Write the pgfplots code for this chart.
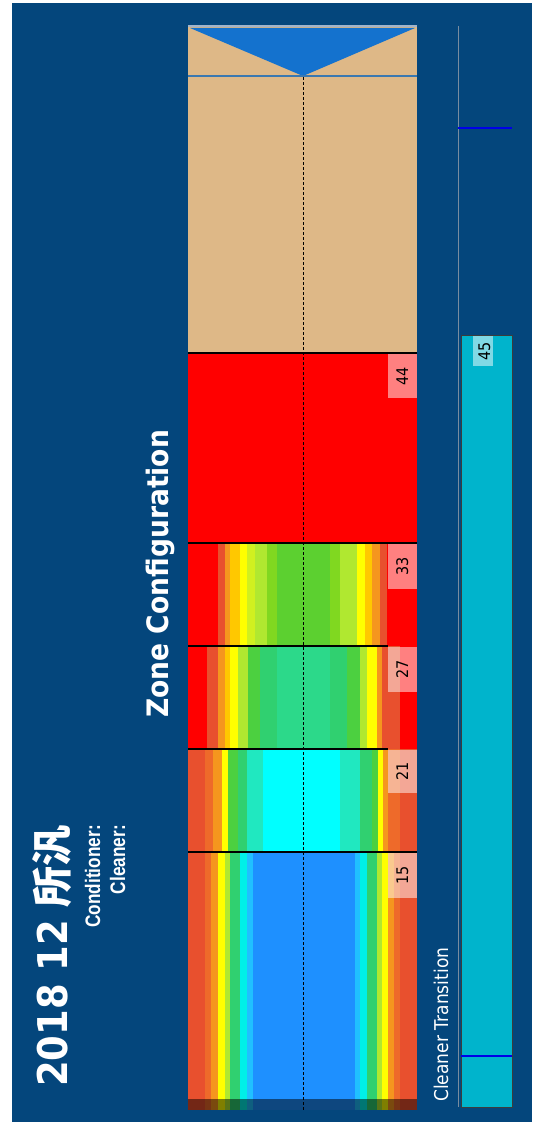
\documentclass[border=0pt]{standalone}
\usepackage{pgfplots}
\pgfplotsset{compat=1.18}
\usepackage{fontspec}
\setmainfont{DejaVu Sans}[FakeStretch=0.9]
\newfontfamily\narrowfont{Liberation Sans}[FakeStretch=0.82]
\newfontfamily\cjkbold{Noto Sans CJK SC Bold}

\definecolor{bgblue}{RGB}{4,70,124}
\definecolor{tanfill}{RGB}{222,184,135}
\definecolor{triblue}{RGB}{20,114,206}
\definecolor{steel}{RGB}{58,120,176}
\definecolor{topline}{RGB}{160,180,204}
\definecolor{framegray}{RGB}{120,140,160}
\definecolor{bardark}{RGB}{60,60,60}
\definecolor{barcyan}{RGB}{0,180,204}
\definecolor{tickblue}{RGB}{0,0,230}
% heat colours
\definecolor{hred}{RGB}{255,0,0}
\definecolor{hro}{RGB}{232,80,46}
\definecolor{hor}{RGB}{238,106,42}
\definecolor{horange}{RGB}{245,150,30}
\definecolor{hyo}{RGB}{255,200,0}
\definecolor{hyellow}{RGB}{255,255,0}
\definecolor{hyg}{RGB}{176,232,48}
\definecolor{hyg2}{RGB}{208,240,32}
\definecolor{hlg}{RGB}{128,216,32}
\definecolor{hgreen}{RGB}{76,208,64}
\definecolor{hgreen2}{RGB}{48,208,112}
\definecolor{hgreen3}{RGB}{92,208,48}
\definecolor{hteal}{RGB}{44,217,138}
\definecolor{hturq}{RGB}{32,232,192}
\definecolor{hcyan}{RGB}{0,255,255}
\definecolor{hcyan2}{RGB}{0,240,232}
\definecolor{hlblue}{RGB}{32,192,255}
\definecolor{hblue}{RGB}{30,144,255}

% one coloured band: x0 x1 y0 y1 colour
\newcommand{\band}[5]{\addplot[draw=none, fill=#5] coordinates {(#1,#3) (#2,#3) (#2,#4) (#1,#4)};}

\begin{document}
\begin{tikzpicture}
\begin{axis}[
  scale only axis, width=542pt, height=1124pt,
  xmin=0, xmax=542, ymin=0, ymax=1124,
  y dir=reverse, hide axis, clip=false,
]
% page and background
\band{0}{542}{0}{1124}{white}
\band{12}{532}{3}{1122}{bgblue}

% upper (empty) part of the column
\band{188}{417}{26}{353}{tanfill}
\addplot[draw=none, fill=triblue] coordinates {(190,28) (415,28) (303,76)};
\addplot[topline, line width=1.5pt] coordinates {(188,26) (417,26)};
\addplot[steel, line width=2pt] coordinates {(188,76) (417,76)};

% zone 44
\band{188}{417}{353}{543}{hred}

% zone 33
\band{188}{218}{543}{646}{hred}
\band{218}{225}{543}{646}{hro}
\band{225}{230}{543}{646}{horange}
\band{230}{240}{543}{646}{hyo}
\band{240}{247}{543}{646}{hyellow}
\band{247}{255}{543}{646}{hyg2}
\band{255}{267}{543}{646}{hyg}
\band{267}{277}{543}{646}{hlg}
\band{277}{330}{543}{646}{hgreen3}
\band{330}{340}{543}{646}{hlg}
\band{340}{357}{543}{646}{hyg}
\band{357}{365}{543}{646}{hyellow}
\band{365}{372}{543}{646}{hyo}
\band{372}{380}{543}{646}{horange}
\band{380}{387}{543}{646}{hro}
\band{387}{417}{543}{646}{hred}

% zone 27
\band{188}{207}{646}{749}{hred}
\band{207}{218}{646}{749}{hro}
\band{218}{225}{646}{749}{horange}
\band{225}{230}{646}{749}{hyo}
\band{230}{238}{646}{749}{hyellow}
\band{238}{248}{646}{749}{hyg}
\band{248}{260}{646}{749}{hgreen}
\band{260}{277}{646}{749}{hgreen2}
\band{277}{330}{646}{749}{hteal}
\band{330}{347}{646}{749}{hgreen2}
\band{347}{360}{646}{749}{hgreen}
\band{360}{367}{646}{749}{hyg}
\band{367}{377}{646}{749}{hyellow}
\band{377}{382}{646}{749}{horange}
\band{382}{400}{646}{749}{hro}
\band{400}{417}{646}{749}{hred}

% zone 21
\band{188}{205}{749}{852}{hro}
\band{205}{213}{749}{852}{hor}
\band{213}{222}{749}{852}{horange}
\band{222}{228}{749}{852}{hyellow}
\band{228}{238}{749}{852}{hgreen}
\band{238}{247}{749}{852}{hgreen2}
\band{247}{263}{749}{852}{hturq}
\band{263}{340}{749}{852}{hcyan}
\band{340}{360}{749}{852}{hturq}
\band{360}{372}{749}{852}{hgreen2}
\band{372}{378}{749}{852}{hgreen}
\band{378}{383}{749}{852}{hyellow}
\band{383}{388}{749}{852}{horange}
\band{388}{400}{749}{852}{hor}
\band{400}{417}{749}{852}{hro}

% zone 15
\band{188}{205}{852}{1110}{hro}
\band{205}{211}{852}{1110}{hor}
\band{211}{218}{852}{1110}{horange}
\band{218}{225}{852}{1110}{hyellow}
\band{225}{230}{852}{1110}{hyg}
\band{230}{240}{852}{1110}{hgreen2}
\band{240}{247}{852}{1110}{hcyan2}
\band{247}{253}{852}{1110}{hlblue}
\band{253}{355}{852}{1110}{hblue}
\band{355}{360}{852}{1110}{hlblue}
\band{360}{367}{852}{1110}{hcyan2}
\band{367}{377}{852}{1110}{hgreen2}
\band{377}{382}{852}{1110}{hyg}
\band{382}{388}{852}{1110}{hyellow}
\band{388}{394}{852}{1110}{horange}
\band{394}{400}{852}{1110}{hor}
\band{400}{417}{852}{1110}{hro}
% darkened foot of the column
\addplot[draw=none, fill=black, fill opacity=0.5] coordinates {(188,1099) (417,1099) (417,1110) (188,1110)};

% zone borders
\addplot[black, line width=2pt] coordinates {(188,353) (417,353)};
\addplot[black, line width=2pt] coordinates {(188,543) (417,543)};
\addplot[black, line width=2pt] coordinates {(188,646) (388,646)};
\addplot[black, line width=2pt] coordinates {(188,749) (388,749)};
\addplot[black, line width=2pt] coordinates {(188,852) (417,852)};
% centre line
\addplot[black, line width=1pt, dash pattern=on 3pt off 2pt] coordinates {(303,77) (303,1110)};

% zone labels
\addplot[draw=none, fill=white, fill opacity=0.5] coordinates {(388,354) (417,354) (417,398) (388,398)};
\addplot[draw=none, fill=white, fill opacity=0.5] coordinates {(388,544) (417,544) (417,589) (388,589)};
\addplot[draw=none, fill=white, fill opacity=0.5] coordinates {(388,647) (417,647) (417,692) (388,692)};
\addplot[draw=none, fill=white, fill opacity=0.5] coordinates {(388,750) (417,750) (417,793) (388,793)};
\addplot[draw=none, fill=white, fill opacity=0.5] coordinates {(388,853) (417,853) (417,898) (388,898)};
\begin{scope}[every node/.style={rotate=90, anchor=base, inner sep=0pt, font=\fontsize{16}{16}\selectfont}]
\node at (axis cs:408,376) {44};
\node at (axis cs:408,566) {33};
\node at (axis cs:408,669) {27};
\node at (axis cs:408,771) {21};
\node at (axis cs:408,875) {15};
\end{scope}

% cleaner transition bar
\addplot[framegray, line width=1pt] coordinates {(458,26) (458,1107)};
\addplot[draw=bardark, line width=1pt, fill=barcyan] coordinates {(461,335) (512,335) (512,1107) (461,1107)} -- cycle;
\addplot[tickblue, line width=2pt] coordinates {(458,128) (512,128)};
\addplot[tickblue, line width=2pt] coordinates {(461,1056) (512,1056)};
\addplot[draw=none, fill=white, fill opacity=0.5] coordinates {(473,336) (493,336) (493,366) (473,366)};
\node[rotate=90, anchor=base, inner sep=0pt, font=\fontsize{16}{16}\selectfont] at (axis cs:490,351) {45};

% texts
\node[rotate=90, anchor=base east, inner sep=0pt, text=white, font=\fontsize{41}{41}\selectfont\bfseries]
  at (axis cs:67,825) {2018 12 {\cjkbold 所汎}};
\node[rotate=90, anchor=base east, inner sep=0pt, text=white, font=\narrowfont\fontsize{21}{21}\selectfont\bfseries]
  at (axis cs:100,825) {Conditioner:};
\node[rotate=90, anchor=base east, inner sep=0pt, text=white, font=\narrowfont\fontsize{21}{21}\selectfont\bfseries]
  at (axis cs:125,825) {Cleaner:};
\node[rotate=90, anchor=base west, inner sep=0pt, text=white, font=\fontsize{29.5}{29.5}\selectfont\bfseries]
  at (axis cs:168,718) {Zone Configuration};
\node[rotate=90, anchor=base west, inner sep=0pt, text=white, font=\fontsize{19}{19}\selectfont]
  at (axis cs:448,1102) {Cleaner Transition};
\end{axis}
\end{tikzpicture}
\end{document}
